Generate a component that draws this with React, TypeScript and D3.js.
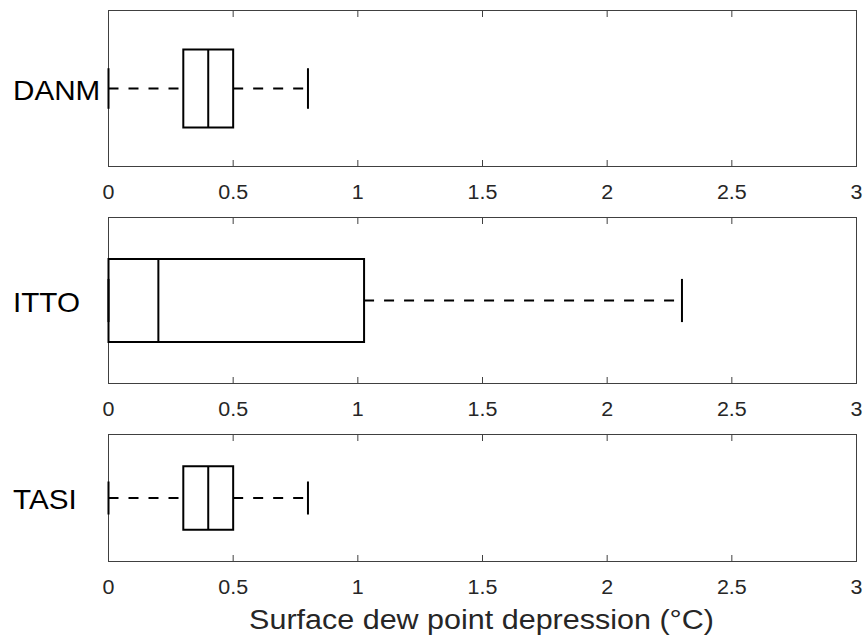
import React from "react";
import * as d3 from "d3";

const categories = ["DANM", "ITTO", "TASI"];
const whiskerLow = [0, 0, 0];
const q1 = [0.3, 0, 0.3];
const medians = [0.4, 0.2, 0.4];
const q3 = [0.5, 1.025, 0.5];
const whiskerHigh = [0.8, 2.3, 0.8];
const xTicks = [0, 0.5, 1, 1.5, 2, 2.5, 3];
const xLabel = "Surface dew point depression (°C)";

const W = 866;
const H = 636;
const left = 108.5;
const right = 856.5;
const panels = [
  { top: 10.5, bottom: 166.5 },
  { top: 217.5, bottom: 383.5 },
  { top: 434.5, bottom: 561.5 },
];

const font = "Liberation Sans, Arial, Helvetica, sans-serif";
const axisColor = "#404040";
const textColor = "#262626";

export default function App() {
  const x = d3.scaleLinear().domain([0, 3]).range([left, right]);
  return (
    <svg width={W} height={H} style={{ position: "absolute", left: 0, top: 0 }} fontFamily={font}>
      <rect width={W} height={H} fill="#fff" />
      {categories.map((cat, i) => {
        const p = panels[i];
        const y = d3.scaleLinear().domain([1.5, 0.5]).range([p.top, p.bottom]);
        const cy = y(1);
        const boxTop = y(1.25);
        const boxBot = y(0.75);
        const capTop = y(1.13);
        const capBot = y(0.87);
        return (
          <g key={cat}>
            <rect x={left} y={p.top} width={right - left} height={p.bottom - p.top} fill="none" stroke={axisColor} strokeWidth={1} />
            {xTicks.map((t) => (
              <g key={t}>
                <line x1={x(t)} x2={x(t)} y1={p.top} y2={p.top + 6.5} stroke={axisColor} strokeWidth={1} />
                <line x1={x(t)} x2={x(t)} y1={p.bottom} y2={p.bottom - 6.5} stroke={axisColor} strokeWidth={1} />
                <text
                  transform={`translate(${x(t)},${p.bottom + 32}) scale(1.1,1)`}
                  textAnchor="middle"
                  fontSize={19.5}
                  fill={textColor}
                >
                  {String(t)}
                </text>
              </g>
            ))}
            <text transform={`translate(13,${cy + 11}) scale(1.04,1)`} textAnchor="start" fontSize={28.5} fill="#000">
              {cat}
            </text>
            {/* whiskers */}
            <line x1={x(whiskerLow[i])} x2={x(q1[i])} y1={cy} y2={cy} stroke="#000" strokeWidth={2} strokeDasharray="10 10" />
            <line x1={x(q3[i])} x2={x(whiskerHigh[i])} y1={cy} y2={cy} stroke="#000" strokeWidth={2} strokeDasharray="10 10" />
            <line x1={x(whiskerLow[i])} x2={x(whiskerLow[i])} y1={capTop} y2={capBot} stroke="#000" strokeWidth={2} />
            <line x1={x(whiskerHigh[i])} x2={x(whiskerHigh[i])} y1={capTop} y2={capBot} stroke="#000" strokeWidth={2} />
            {/* box */}
            <rect x={x(q1[i])} y={boxTop} width={x(q3[i]) - x(q1[i])} height={boxBot - boxTop} fill="none" stroke="#000" strokeWidth={2} />
            <line x1={x(medians[i])} x2={x(medians[i])} y1={boxTop} y2={boxBot} stroke="#000" strokeWidth={2} />
          </g>
        );
      })}
      <text transform={`translate(481.5,629) scale(1.13,1)`} textAnchor="middle" fontSize={27} fill={textColor}>
        {xLabel}
      </text>
    </svg>
  );
}
